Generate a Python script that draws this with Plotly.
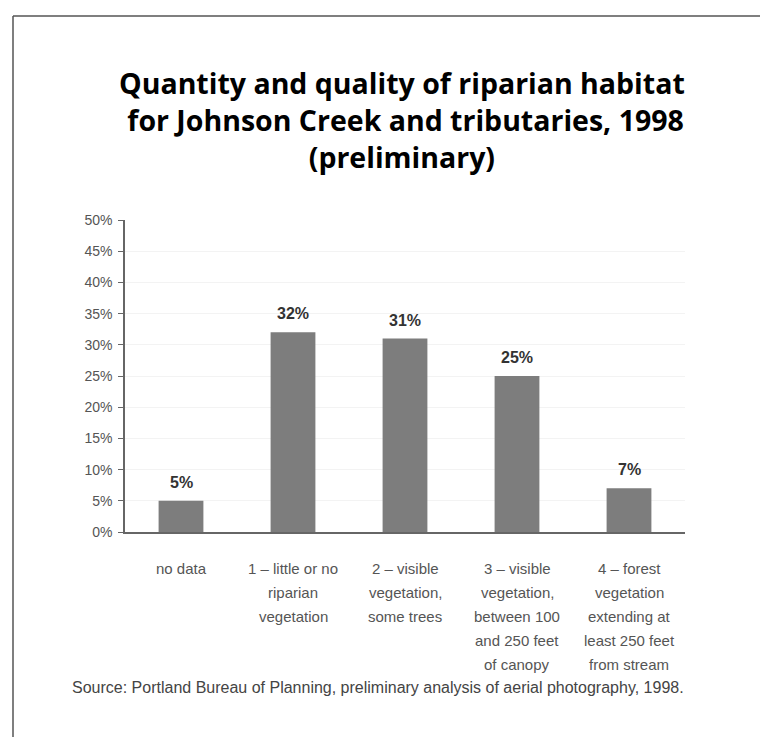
import plotly.graph_objects as go

# Riparian habitat classes and share of stream length (percent)
categories = ["no data", "class1", "class2", "class3", "class4"]
category_lines = [
    ["no data"],
    ["1 \u2013 little or no", "riparian", "vegetation"],
    ["2 \u2013 visible", "vegetation,", "some trees"],
    ["3 \u2013 visible", "vegetation,", "between 100", "and 250 feet", "of canopy"],
    ["4 \u2013 forest", "vegetation", "extending at", "least 250 feet", "from stream"],
]
shares = [5, 32, 31, 25, 7]
y_ticks = [0, 5, 10, 15, 20, 25, 30, 35, 40, 45, 50]

title_text = ("<b>Quantity and quality of riparian habitat<br>"
              " for Johnson Creek and tributaries, 1998<br>"
              "(preliminary)</b>")
source_text = ("Source: Portland Bureau of Planning, preliminary analysis "
               "of aerial photography, 1998.")

# plot area in pixels: x 125..685, y 220 (top) .. 532 (bottom)
PX_L, PX_R, PX_T, PX_B = 125, 685, 220, 532


def paper_x(px):
    return (px - PX_L) / (PX_R - PX_L)


def paper_y(py):
    return (PX_B - py) / (PX_B - PX_T)


fig = go.Figure()
fig.add_trace(go.Bar(
    x=categories,
    y=shares,
    marker=dict(color="#7d7d7d", line=dict(width=0)),
    hoverinfo="skip",
))

annotations = []

# value labels above each bar
for cat, v in zip(categories, shares):
    annotations.append(dict(
        x=cat, y=v, xref="x", yref="y",
        text=f"<b>{v}%</b>", showarrow=False,
        xanchor="center", yanchor="bottom", yshift=8,
        font=dict(family="Liberation Sans", size=16, color="#333333"),
    ))

# category labels, one annotation per line for the wide line spacing
for cat, lines in zip(categories, category_lines):
    for i, line in enumerate(lines):
        annotations.append(dict(
            x=cat, y=0, xref="x", yref="y",
            text=line, showarrow=False,
            yanchor="middle", xanchor="center",
            yshift=-36 - 24 * i,
            font=dict(family="Liberation Sans", size=15, color="#555555"),
        ))

# three-line title
annotations.append(dict(
    x=paper_x(402), y=paper_y(120), xref="paper", yref="paper",
    text=title_text, showarrow=False,
    xanchor="center", yanchor="middle",
    font=dict(family="Open Sans", size=28.5, color="black"),
))

annotations.append(dict(
    x=paper_x(378), y=paper_y(687), xref="paper", yref="paper",
    text=source_text, showarrow=False,
    xanchor="center", yanchor="middle",
    font=dict(family="Liberation Sans", size=16, color="#444444"),
))

fig.update_layout(
    width=760, height=737,
    margin=dict(l=PX_L, r=760 - PX_R, t=PX_T, b=737 - PX_B),
    paper_bgcolor="white", plot_bgcolor="white",
    showlegend=False,
    bargap=0.6,
    xaxis=dict(
        showticklabels=False, ticks="",
        showline=True, linecolor="#666666", linewidth=1.5,
        showgrid=False, zeroline=False,
    ),
    yaxis=dict(
        range=[0, 50], tickvals=y_ticks,
        ticktext=[f"{t}%" for t in y_ticks],
        ticks="outside", ticklen=5, tickcolor="#666666",
        ticklabelstandoff=3,
        showline=True, linecolor="#666666", linewidth=1.5,
        showgrid=True, gridcolor="#f3f3f3", gridwidth=1,
        zeroline=False,
        tickfont=dict(family="Liberation Sans", size=14, color="#555555"),
    ),
    annotations=annotations,
    shapes=[
        # frame along the top and left edges of the page
        dict(type="line", xref="paper", yref="paper",
             x0=paper_x(13), x1=paper_x(762),
             y0=paper_y(16), y1=paper_y(16),
             line=dict(color="#555555", width=1.5)),
        dict(type="line", xref="paper", yref="paper",
             x0=paper_x(13), x1=paper_x(13),
             y0=paper_y(16), y1=paper_y(740),
             line=dict(color="#555555", width=1.5)),
    ],
)

fig.write_html("out.html")
